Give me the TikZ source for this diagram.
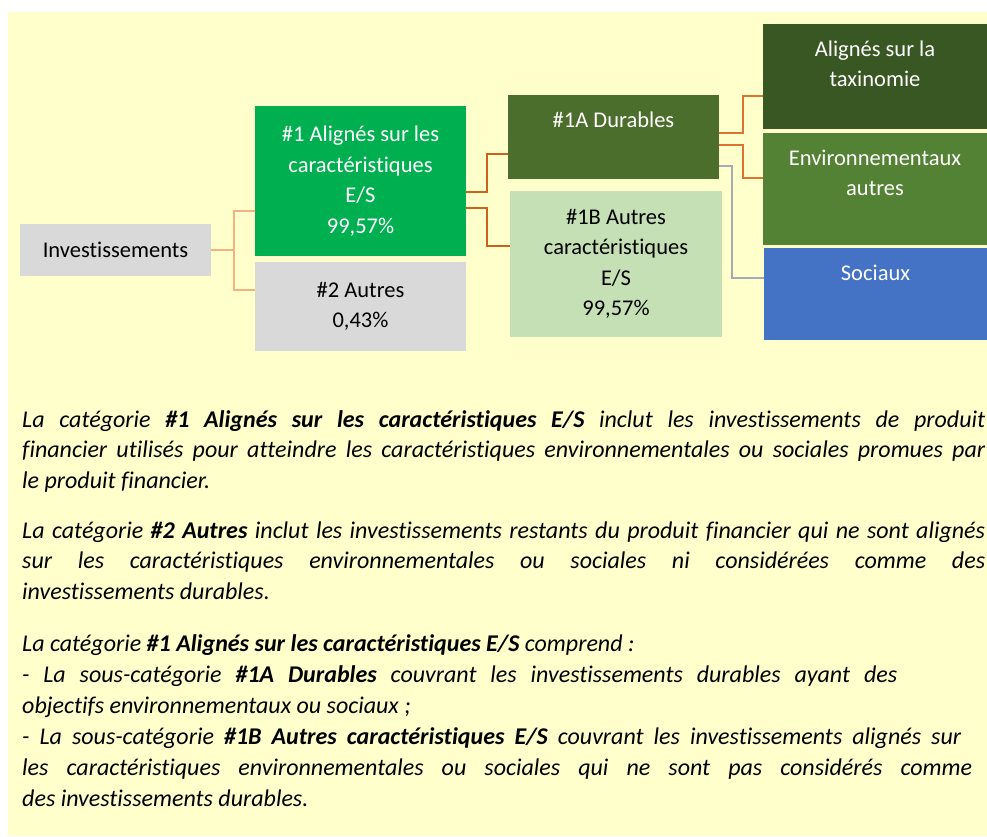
\documentclass[tikz,border=0pt]{standalone}
\usepackage{fontspec}
\setmainfont{Carlito}[Ligatures=NoCommon]
\definecolor{bgy}{HTML}{FFFFCC}
\definecolor{gry}{HTML}{D9D9D9}
\definecolor{gone}{HTML}{00B050}
\definecolor{gonea}{HTML}{4B6E2C}
\definecolor{goneb}{HTML}{C5E0B4}
\definecolor{gtax}{HTML}{385723}
\definecolor{genv}{HTML}{548235}
\definecolor{soc}{HTML}{4472C4}
\definecolor{conl}{HTML}{F4B183}
\definecolor{cond}{HTML}{C9621F}
\definecolor{conm}{HTML}{DB7432}
\definecolor{cong}{HTML}{A8A8B8}
\tikzset{
  cbox/.style={inner sep=0pt, outer sep=0pt, anchor=north west, font=\fontsize{22.5}{30.5}\selectfont},
  conL/.style={draw=conl, line width=1.5pt},
  conD/.style={draw=cond, line width=1.5pt},
  conM/.style={draw=conm, line width=1.5pt},
  conG/.style={draw=cong, line width=1.5pt},
  bodyline/.style={anchor=base west, inner sep=0pt, font=\fontsize{24}{30.5}\selectfont\itshape},
}
\newcommand\cbt[3]{\parbox[c][#2][c]{#1}{\centering #3\par}}
\newcommand\tbt[3]{\parbox[c][#2][t]{#1}{\centering\rule{0pt}{32pt}#3\par}}
\begin{document}
\begin{tikzpicture}[x=1pt,y=-1pt]
\useasboundingbox (0,0) rectangle (987,836);
\fill[white] (0,0) rectangle (987,836);
\fill[bgy] (8,12) rectangle (987,836);

\node[cbox, fill=gry] (inv) at (20,224) {\cbt{191pt}{52pt}{Investissements}};
\node[cbox, fill=gone, text=white] (n1) at (255,106) {\cbt{211pt}{150pt}{\#1 Alignés sur les\\caractéristiques\\E/S\\99,57\%}};
\node[cbox, fill=gry] (n2) at (255,262) {\cbt{211pt}{89pt}{\#2 Autres\\0,43\%}};
\node[cbox, fill=gonea, text=white] (d1a) at (508,95) {\tbt{211pt}{84pt}{\#1A Durables}};
\node[cbox, fill=goneb] (d1b) at (510,191) {\cbt{212pt}{146pt}{\#1B Autres\\caractéristiques\\E/S\\99,57\%}};
\node[cbox, fill=gtax, text=white] (tax) at (763,24) {\tbt{224pt}{105pt}{Alignés sur la\\taxinomie}};
\node[cbox, fill=genv, text=white] (env) at (763,133) {\tbt{224pt}{112pt}{Environnementaux\\autres}};
\node[cbox, fill=soc, text=white] (soc) at (764,248) {\tbt{223pt}{92pt}{Sociaux}};

\draw[conL] (inv.east) -- ++(23,0) coordinate (j1) |- ([yshift=45pt]n1.south west);
\draw[conL] (j1) |- ([yshift=-28pt]n2.north west);
\draw[conD] ([yshift=-86pt]n1.north east) -- ++(21,0) |- ([yshift=25pt]d1a.south west);
\draw[conD] ([yshift=-102pt]n1.north east) -- ++(21,0) |- ([yshift=-55pt]d1b.north west);
\draw[conM] ([yshift=-38pt]d1a.north east) -- ++(24,0) |- ([yshift=-72pt]tax.north west);
\draw[conM] ([yshift=-50pt]d1a.north east) -- ++(24,0) |- ([yshift=-45pt]env.north west);
\draw[conG] ([yshift=-71pt]d1a.north east) -- ++(13,0) |- ([yshift=-30pt]soc.north west);

\node[bodyline] (t1) at (22,427) {\makebox[963pt][s]{La catégorie \textbf{\#1 Alignés sur les caractéristiques E/S} inclut les investissements de produit}};
\node[bodyline] (t2) at (22,457.5) {\makebox[963pt][s]{financier utilisés pour atteindre les caractéristiques environnementales ou sociales promues par}};
\node[bodyline] (t3) at (22,488) {le produit financier.};
\node[bodyline] (t4) at (22,538) {\makebox[963pt][s]{La catégorie \textbf{\#2 Autres} inclut les investissements restants du produit financier qui ne sont alignés}};
\node[bodyline] (t5) at (22,568.5) {\makebox[963pt][s]{sur les caractéristiques environnementales ou sociales ni considérées comme des}};
\node[bodyline] (t6) at (22,599) {investissements durables.};
\node[bodyline] (t7) at (22,651) {La catégorie \textbf{\#1 Alignés sur les caractéristiques E/S} comprend :};
\node[bodyline] (t8) at (22,682) {\makebox[875pt][s]{- La sous-catégorie \textbf{\#1A Durables} couvrant les investissements durables ayant des}};
\node[bodyline] (t9) at (22,713) {objectifs environnementaux ou sociaux ;};
\node[bodyline] (t10) at (22,744) {\makebox[939pt][s]{- La sous-catégorie \textbf{\#1B Autres caractéristiques E/S} couvrant les investissements alignés sur}};
\node[bodyline] (t11) at (22,775) {\makebox[950pt][s]{les caractéristiques environnementales ou sociales qui ne sont pas considérés comme}};
\node[bodyline] (t12) at (22,806) {des investissements durables.};
\end{tikzpicture}
\end{document}
